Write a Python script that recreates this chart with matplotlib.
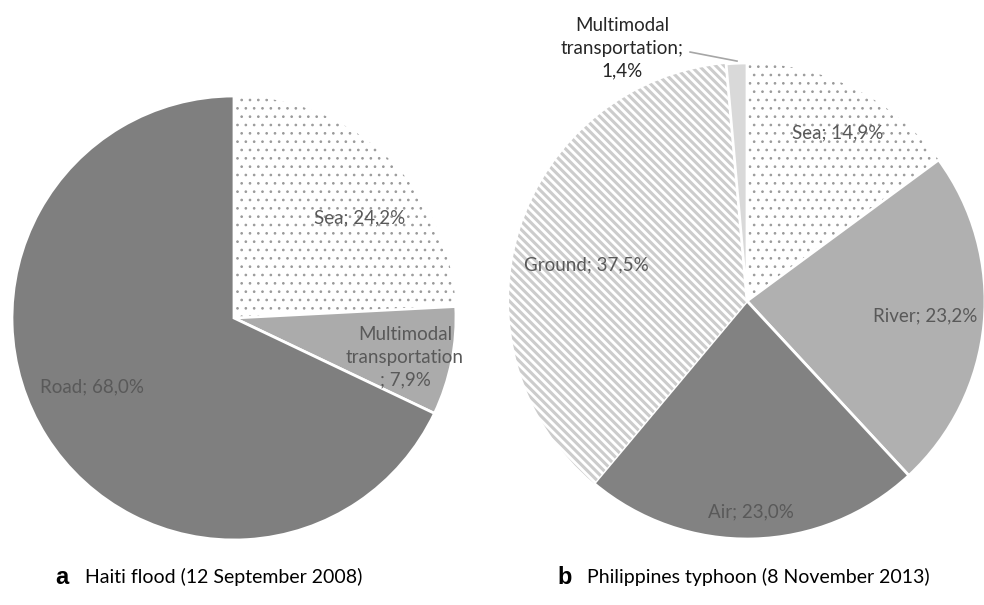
import matplotlib
matplotlib.use("Agg")
import matplotlib.pyplot as plt

# a: Haiti flood
haiti_labels = ["Sea; 24,2%", "Multimodal\ntransportation\n; 7,9%", "Road; 68,0%"]
haiti_values = [24.2, 7.9, 68.0]

# b: Philippines typhoon
phil_labels = ["Sea; 14,9%", "River; 23,2%", "Air; 23,0%", "Ground; 37,5%",
               "Multimodal\ntransportation;\n1,4%"]
phil_values = [14.9, 23.2, 23.0, 37.5, 1.4]

captions = ["Haiti flood (12 September 2008)", "Philippines typhoon (8 November 2013)"]

plt.rcParams["font.family"] = ["Lato", "DejaVu Sans"]
plt.rcParams["hatch.linewidth"] = 2.2

W, H = 984, 605
fig = plt.figure(figsize=(W / 100, H / 100), dpi=100)


def pie_axes(cx, cy, r):
    ax = fig.add_axes([(cx - r) / W, (H - cy - r) / H, 2 * r / W, 2 * r / H])
    ax.axis("off")
    return ax


def fix_limits(ax):
    ax.set_xlim(-1, 1)
    ax.set_ylim(-1, 1)
    ax.set_aspect("auto")


def dotted(w):
    w.set_hatch("..")
    w.set_edgecolor("#9a9a9a")
    w.set_linewidth(0)
    if hasattr(w, "set_hatch_linewidth"):
        w.set_hatch_linewidth(0.7)


txt = dict(fontsize=13.5, color="#595959", ha="center", va="center", linespacing=1.4)

# ---- left pie
ax1 = pie_axes(234, 318, 222)
w1, _ = ax1.pie(haiti_values, startangle=90, counterclock=False, radius=1,
                colors=["white", "#ababab", "#7f7f7f"],
                wedgeprops=dict(edgecolor="white", linewidth=2))
fix_limits(ax1)
dotted(w1[0])
for pos, lab in zip([(0.568, 0.450), (0.770, -0.176), (-0.640, -0.311)], haiti_labels):
    ax1.text(pos[0], pos[1], lab, clip_on=False, **txt)

# ---- right pie
ax2 = pie_axes(747, 301, 238)
w2, _ = ax2.pie(phil_values, startangle=90, counterclock=False, radius=1,
                colors=["white", "#b0b0b0", "#828282", "white", "#d9d9d9"],
                wedgeprops=dict(edgecolor="white", linewidth=2))
fix_limits(ax2)
dotted(w2[0])
w2[3].set_hatch("\\\\\\\\")
w2[3].set_edgecolor("#cccccc")
w2[3].set_linewidth(0)
positions = [(0.382, 0.706), (0.748, -0.063), (0.017, -0.887), (-0.676, 0.151), (-0.525, 1.063)]
for pos, lab in zip(positions, phil_labels):
    ax2.text(pos[0], pos[1], lab, clip_on=False, **txt)
ax2.texts[-1].set_color("#262626")
ax2.plot([-0.239, -0.042], [1.046, 1.008], color="#a6a6a6", lw=1.2, clip_on=False)

# ---- captions
fig.text(55 / W, 1 - 577 / H, "a", fontsize=17, fontweight="bold",
         family=["Liberation Sans", "DejaVu Sans"], va="center", ha="left")
fig.text(85 / W, 1 - 577 / H, captions[0], fontsize=14, va="center", ha="left")
fig.text(557 / W, 1 - 577 / H, "b", fontsize=17, fontweight="bold",
         family=["Liberation Sans", "DejaVu Sans"], va="center", ha="left")
fig.text(587 / W, 1 - 577 / H, captions[1], fontsize=14, va="center", ha="left")

fig.savefig("out.png", dpi=100, facecolor="white")
